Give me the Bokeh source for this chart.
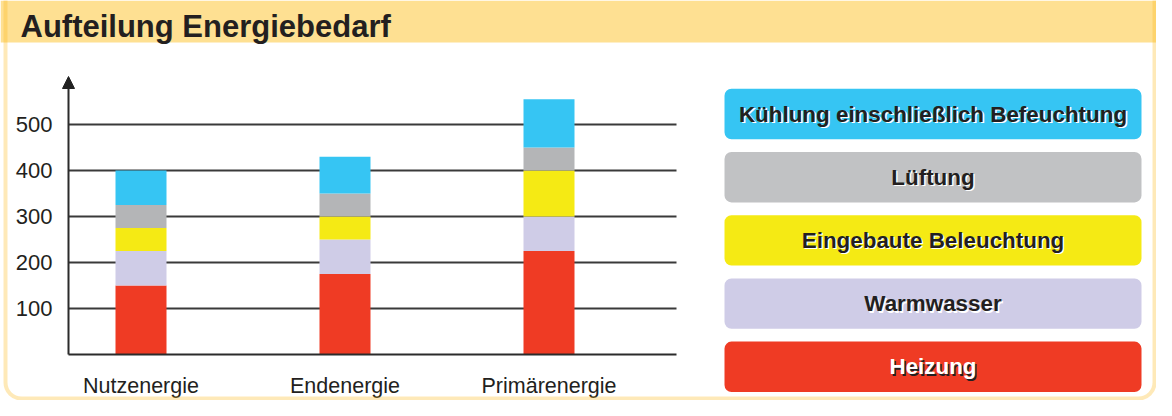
from bokeh.plotting import figure
from bokeh.models import (Range1d, FixedTicker, BoxAnnotation, Label, Arrow,
                          NormalHead, ColumnDataSource, LinearAxis)
from bokeh.embed import file_html
from bokeh.resources import INLINE

# ---------------- data ----------------
title = "Aufteilung Energiebedarf"
categories = ["Nutzenergie", "Endenergie", "Primärenergie"]
series_keys = ["heizung", "warmwasser", "beleuchtung", "lueftung", "kuehlung"]
series_names = ["Heizung", "Warmwasser", "Eingebaute Beleuchtung", "Lüftung",
                "Kühlung einschließlich Befeuchtung"]
heizung = [150, 175, 225]
warmwasser = [75, 75, 75]
beleuchtung = [50, 50, 100]
lueftung = [50, 50, 50]
kuehlung = [75, 80, 105]
y_ticks = [100, 200, 300, 400, 500]

# ---------------- styles / layout ----------------
bar_colors = ["#EF3B24", "#CFCCE7", "#F5EA14", "#B4B5B7", "#36C5F3"]
legend_colors = ["#EF3B24", "#CFCCE7", "#F5EA14", "#C1C2C4", "#36C5F3"]
text_dark = "#231F20"
FONT = "Liberation Sans"
W, H = 1156, 400

# pixel layout of the plotting area (canvas pixels)
PX_BASE = 354.0        # pixel row of value 0
PX_PER_UNIT_Y = 0.46   # pixels per value unit
PX_X0 = 140.5          # pixel column of first category
PX_PER_CAT = 204.0     # pixels between categories
BAR_PX = 51
AXIS_LEFT_PX, AXIS_RIGHT_PX, ARROW_TIP_PX = 68, 676, 76

def dx(px):
    return (px - PX_X0) / PX_PER_CAT

def dy(py):
    return (PX_BASE - py) / PX_PER_UNIT_Y

x_idx = list(range(len(categories)))
src = ColumnDataSource(dict(x=x_idx, heizung=heizung, warmwasser=warmwasser,
                            beleuchtung=beleuchtung, lueftung=lueftung,
                            kuehlung=kuehlung))

p = figure(width=W, height=H, output_backend="svg", toolbar_location=None,
           title=None, x_axis_location=None, y_axis_location=None,
           x_range=Range1d(dx(0), dx(W)), y_range=Range1d(dy(H), dy(0)),
           min_border=0)
p.background_fill_color = "white"
p.border_fill_color = "white"
p.outline_line_color = None
p.xgrid.visible = False
p.ygrid.visible = False

x_left, x_right = dx(AXIS_LEFT_PX), dx(AXIS_RIGHT_PX)

# horizontal grid lines (only across the plotting area)
p.segment(x0=[x_left] * len(y_ticks), x1=[x_right] * len(y_ticks),
          y0=y_ticks, y1=y_ticks, line_color="#3a3a3a", line_width=2)

p.vbar_stack(series_keys, x="x", width=BAR_PX / PX_PER_CAT, source=src,
             fill_color=bar_colors, line_color=None)

# axes
xaxis = LinearAxis(fixed_location=0, bounds=(x_left, x_right),
                   ticker=FixedTicker(ticks=x_idx),
                   major_label_overrides={i: c for i, c in zip(x_idx, categories)},
                   major_tick_line_color=None, minor_tick_line_color=None,
                   axis_line_color="#2b2b2b", axis_line_width=2,
                   major_label_standoff=13, major_label_text_font=FONT,
                   major_label_text_font_size="21.5px",
                   major_label_text_color=text_dark)
p.add_layout(xaxis, "below")
yaxis = LinearAxis(fixed_location=x_left, ticker=FixedTicker(ticks=y_ticks),
                   major_tick_line_color=None, minor_tick_line_color=None,
                   axis_line_color=None, major_label_standoff=10,
                   major_label_text_font=FONT, major_label_text_font_size="22px",
                   major_label_text_color=text_dark)
p.add_layout(yaxis, "left")

# y axis arrow
p.add_layout(Arrow(end=NormalHead(size=12, fill_color="#222222", line_color="#222222",
                                  line_width=1),
                   x_start=x_left, y_start=0, x_end=x_left, y_end=dy(ARROW_TIP_PX),
                   line_color="#2b2b2b", line_width=2))

# header band
p.add_layout(BoxAnnotation(left=0, right=W, top=0, bottom=42,
                           left_units="canvas", right_units="canvas",
                           top_units="canvas", bottom_units="canvas",
                           fill_color="#FEE092", fill_alpha=1, line_color=None))
p.add_layout(Label(x=20, y=26, x_units="canvas", y_units="canvas", text=title,
                   text_font=FONT, text_font_style="bold", text_font_size="31px",
                   text_baseline="alphabetic", text_color=text_dark))

# card border
p.add_layout(BoxAnnotation(left=5, right=W - 2, top=-20, bottom=H - 2,
                           left_units="canvas", right_units="canvas",
                           top_units="canvas", bottom_units="canvas",
                           fill_alpha=0, line_color="#FDB515", line_width=4,
                           border_radius=(6, 6, 16, 16)))

# legend boxes
leg_left, leg_right = 724, 1141
leg_top0, leg_pitch, leg_h = 88.3, 63.2, 50.4
order = list(range(len(series_names)))[::-1]
for k, i in enumerate(order):
    top = leg_top0 + k * leg_pitch
    p.add_layout(BoxAnnotation(left=leg_left, right=leg_right, top=top, bottom=top + leg_h,
                               left_units="canvas", right_units="canvas",
                               top_units="canvas", bottom_units="canvas",
                               fill_color=legend_colors[i], fill_alpha=1,
                               line_color=None, border_radius=7))
for k, i in enumerate(order):
    top = leg_top0 + k * leg_pitch
    cx = (leg_left + leg_right) / 2
    cy = top + leg_h / 2
    main_col = "white" if series_keys[i] == "heizung" else text_dark
    shadow_col = text_dark if series_keys[i] == "heizung" else "white"
    for off, col in ((1.5, shadow_col), (0, main_col)):
        p.add_layout(Label(x=cx + off, y=cy + off, x_units="canvas", y_units="canvas",
                           text=series_names[i], text_font=FONT,
                           text_font_style="bold", text_font_size="22.4px",
                           text_align="center", text_baseline="middle",
                           text_color=col))

open("out.html", "w").write(file_html(p, INLINE))
